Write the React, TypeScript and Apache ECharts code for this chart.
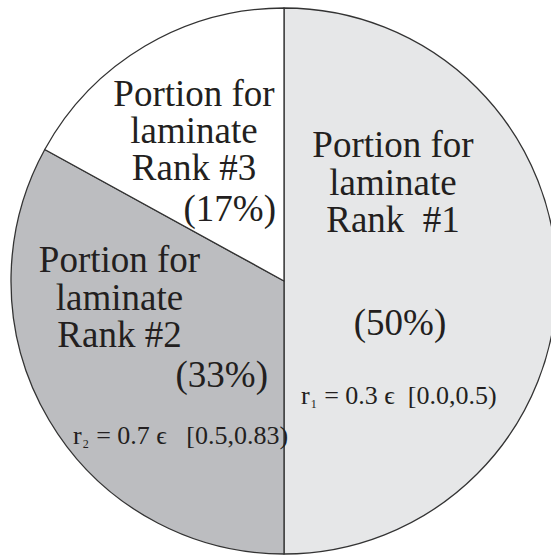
import React, { useEffect, useRef } from "react";
import * as echarts from "echarts";

const categories = ["Rank #1", "Rank #2", "Rank #3"];
const shares = [50, 33, 17];
const rankLabels = ["Rank  #1", "Rank #2", "Rank #3"];
const headLines = ["Portion for", "laminate"];
const rValues = ["0.3", "0.7"];
const intervalBounds = ["0.0", "0.5", "0.83"];
const sliceColors = ["#e6e7e8", "#bcbdc0", "#ffffff"];

const TEXT = "#231f20";
const FONT = "Liberation Serif, Times New Roman, serif";

export default function App() {
  const ref = useRef<HTMLDivElement>(null);
  useEffect(() => {
    if (!ref.current) return;
    const chart = echarts.init(ref.current, undefined, { renderer: "svg" });

    const blocks = [
      { cx: 393, cy: 182, lh: 37.5, pct: { x: 400, y: 322.5, align: "center" } },
      { cx: 119.5, cy: 297, lh: 37.5, pct: { x: 268, y: 374.5, align: "right" } },
      { cx: 194, cy: 130, lh: 37, pct: { x: 276, y: 208.5, align: "right" } },
    ];
    const rPos = [
      { x: 301, y: 395 },
      { x: 73, y: 435 },
    ];

    const big = (x: number, y: number, text: string, align: string, lh: number) => ({
      type: "text",
      x,
      y,
      z: 100,
      silent: true,
      style: {
        text,
        fill: TEXT,
        fontSize: 37,
        fontFamily: FONT,
        lineHeight: lh,
        align,
        verticalAlign: "middle",
      },
    });

    const graphics: any[] = [];
    categories.forEach((_, i) => {
      const b = blocks[i];
      const lines = [...headLines, rankLabels[i]];
      graphics.push(big(b.cx, b.cy, lines.join("\n"), "center", b.lh));
      graphics.push(big(b.pct.x, b.pct.y, `(${shares[i]}%)`, b.pct.align, 34));
    });
    rValues.forEach((v, i) => {
      const sep = i === 0 ? " \u03f5  " : " \u03f5   ";
      graphics.push({
        type: "text",
        x: rPos[i].x,
        y: rPos[i].y,
        z: 100,
        silent: true,
        style: {
          text: `{r|r}{s|${i + 1}}{n| = ${v}${sep}[${intervalBounds[i]},${intervalBounds[i + 1]})}`,
          fill: TEXT,
          fontSize: 26,
          fontFamily: FONT,
          align: "left",
          verticalAlign: "middle",
          rich: {
            r: { fontSize: 26, fontFamily: FONT, fill: TEXT, lineHeight: 30 },
            s: { fontSize: 12, fontFamily: FONT, fill: TEXT, lineHeight: 30, verticalAlign: "bottom", padding: [0, 1, 0, 1] },
            n: { fontSize: 26, fontFamily: FONT, fill: TEXT, lineHeight: 30 },
          },
        },
      });
    });

    chart.setOption({
      animation: false,
      backgroundColor: "#ffffff",
      series: [
        {
          type: "pie",
          center: [284, 281],
          radius: 273,
          startAngle: 90,
          clockwise: true,
          silent: true,
          label: { show: false },
          labelLine: { show: false },
          emphasis: { disabled: true },
          itemStyle: { borderColor: "#333333", borderWidth: 1.3 },
          data: categories.map((name, i) => ({
            name,
            value: shares[i],
            itemStyle: { color: sliceColors[i] },
          })),
        },
      ],
      graphic: graphics,
    });
    return () => chart.dispose();
  }, []);
  return (
    <div
      ref={ref}
      style={{ position: "absolute", left: 0, top: 0, width: 551, height: 556 }}
    />
  );
}
